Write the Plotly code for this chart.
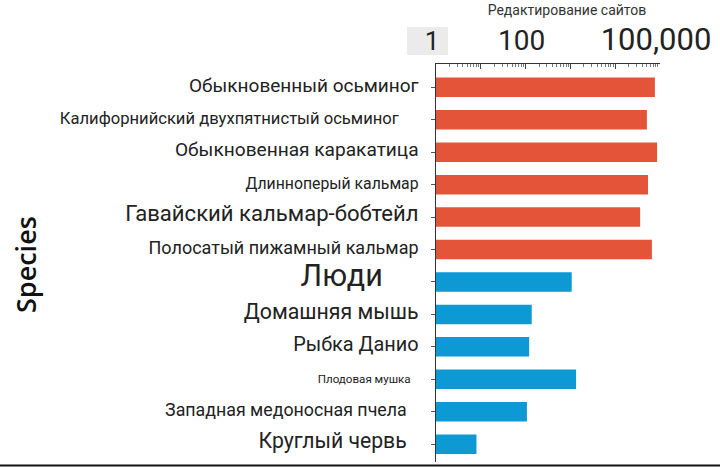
import plotly.graph_objects as go

species = [
    "Обыкновенный осьминог",
    "Калифорнийский двухпятнистый осьминог",
    "Обыкновенная каракатица",
    "Длинноперый кальмар",
    "Гавайский кальмар-бобтейл",
    "Полосатый пижамный кальмар",
    "Люди",
    "Домашняя мышь",
    "Рыбка Данио",
    "Плодовая мушка",
    "Западная медоносная пчела",
    "Круглый червь",
]
editing_sites = [77000, 51000, 86000, 54000, 36000, 66000, 1070, 137, 120, 1340, 107, 8]
group = ["cephalopod"] * 6 + ["other"] * 6
label_sizes = [19, 16.6, 19.1, 15.8, 22.1, 18, 30.5, 21.3, 19.9, 11.6, 17.8, 21.2]
label_pad = [0, 5, 0, 0, 0, 0, 9, 0, 0, 2, 3, 3]

x_tickvals = [1, 10, 100, 1000, 10000, 100000]
x_ticktext = ["1", "", "100", "", "", "100,000"]
x_ticksizes = [26, 0, 28, 0, 0, 31]

group_colors = {"cephalopod": "#e35439", "other": "#0d99d3"}

W, H = 720, 467
# plot area in pixels
PX0, PX1, PY0, PY1 = 436, 660, 64, 462
ML, MR = PX0, W - PX1
MT, MB = PY0, H - PY1
pw = PX1 - PX0
ph = PY1 - PY0


def px_x(x):
    return (x - PX0) / pw


def px_y(y):
    return (PY1 - y) / ph


y_ticktext = [
    f'<span style="font-size:{s}px">{name}</span>'
    + (f'<span style="font-size:16px">{"&nbsp;" * p}</span>' if p else "")
    for name, s, p in zip(species, label_sizes, label_pad)
]
x_text = [
    f'<span style="font-size:{s}px">{t}</span>' if t else ""
    for t, s in zip(x_ticktext, x_ticksizes)
]

fig = go.Figure(
    go.Bar(
        y=species,
        x=editing_sites,
        orientation="h",
        width=0.6,
        marker=dict(color=[group_colors[g] for g in group], line=dict(width=0)),
        showlegend=False,
    )
)

fig.update_layout(
    width=W,
    height=H,
    margin=dict(l=ML, r=MR, t=MT, b=MB, autoexpand=False),
    paper_bgcolor="white",
    plot_bgcolor="white",
    font=dict(family="Roboto", color="#222222"),
    title=dict(
        text="Редактирование сайтов",
        font=dict(family="Roboto", size=14, color="#333333"),
        x=567 / W,
        xanchor="center",
        y=1 - 10 / H,
        yanchor="middle",
    ),
    xaxis=dict(
        type="log",
        side="top",
        range=[0, 5],
        tickmode="array",
        tickvals=x_tickvals,
        ticktext=x_text,
        ticks="inside",
        ticklen=5,
        tickcolor="#444444",
        ticklabelstandoff=8,
        ticklabelshift=-4,
        showgrid=False,
        zeroline=False,
        showline=True,
        linecolor="#333333",
        linewidth=1,
        tickfont=dict(family="Roboto", color="#222222"),
        minor=dict(dtick="D1", ticks="inside", ticklen=3, tickcolor="#777777", showgrid=False),
        fixedrange=True,
    ),
    yaxis=dict(
        type="category",
        categoryorder="array",
        categoryarray=species,
        tickmode="array",
        tickvals=species,
        ticktext=y_ticktext,
        range=[11.55, -0.72],
        ticks="outside",
        ticklen=4,
        tickcolor="#555555",
        ticklabelstandoff=10,
        showline=True,
        linecolor="#333333",
        linewidth=1,
        showgrid=False,
        zeroline=False,
        tickfont=dict(family="Roboto", color="#222222"),
    ),
    shapes=[
        dict(
            type="rect", xref="paper", yref="paper",
            x0=px_x(407), x1=px_x(448),
            y0=px_y(55), y1=px_y(27),
            fillcolor="#ebebeb", line=dict(width=0), layer="below",
        ),
        dict(
            type="line", xref="paper", yref="paper",
            x0=px_x(0), x1=px_x(W),
            y0=px_y(465.5), y1=px_y(465.5),
            line=dict(color="#111111", width=2),
        ),
    ],
    annotations=[
        dict(
            text="Species",
            xref="paper", yref="paper",
            x=px_x(25), y=px_y(265),
            xanchor="center", yanchor="middle",
            textangle=-90, showarrow=False,
            font=dict(family="Open Sans", size=27, color="#111111", weight=600),
        )
    ],
)

fig.write_html(
    "out.html",
    config={"displayModeBar": False},
    post_script="document.body.style.margin='0px';",
)
